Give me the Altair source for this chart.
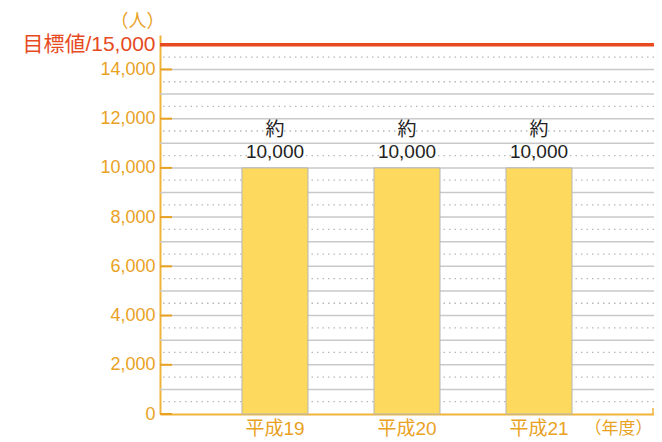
import altair as alt
import pandas as pd

# ---- data ----
years = ["平成19", "平成20", "平成21"]
people = [10000, 10000, 10000]
bar_prefix = "約"
target_value = 15000
target_label = "目標値/15,000"
y_unit = "（人）"
x_unit = "（年度）"
y_tick_values = [0, 2000, 4000, 6000, 8000, 10000, 12000, 14000]
solid_grid = [1000 * i for i in range(1, 15)]
dotted_grid = [500 + 1000 * i for i in range(0, 15)]

ORANGE = "#E9A21F"
AXIS_ORANGE = "#F0B43A"
RED = "#E64A1E"
BAR = "#FDDA5E"
FONT = "Liberation Sans, Noto Sans CJK JP"

W, H = 494, 379

bars_df = pd.DataFrame({
    "year": years,
    "people": people,
    "prefix": [bar_prefix] * len(people),
    "valtext": [format(v, ",") for v in people],
})

yscale = alt.Scale(domain=[0, 15400], nice=False, zero=True)
xscale = alt.Scale(domain=years, paddingInner=0.5, paddingOuter=0.621)

y_axis = alt.Axis(
    values=y_tick_values + [target_value],
    labelExpr="datum.value == %d ? '%s' : format(datum.value, ',')" % (target_value, target_label),
    labelColor={"condition": {"test": "datum.value == %d" % target_value, "value": RED}, "value": ORANGE},
    labelFontSize={"condition": {"test": "datum.value == %d" % target_value, "value": 21}, "value": 18},
    labelFont=FONT,
    labelPadding=5,
    ticks=False,
    grid=False,
    domainColor=AXIS_ORANGE,
    domainWidth=2,
    title=y_unit,
    titleColor=ORANGE,
    titleFontSize=18,
    titleFont=FONT,
    titleFontWeight="normal",
    titleAngle=0,
    titleX=-23,
    titleY=-14,
    titleAlign="center",
    titleBaseline="middle",
)

x_axis = alt.Axis(
    labelAngle=0,
    ticks=False,
    domainColor=AXIS_ORANGE,
    domainWidth=2,
    labelColor=ORANGE,
    labelFontSize=19,
    labelFont=FONT,
    labelPadding=5,
    title=x_unit,
    titleColor=ORANGE,
    titleFontSize=17,
    titleFont=FONT,
    titleFontWeight="normal",
    titleX=458,
    titleY=14,
    titleAlign="center",
    titleBaseline="middle",
)

base = alt.Chart(bars_df)

solid = alt.Chart(pd.DataFrame({"v": solid_grid})).mark_rule(
    color="#c9c9c9", strokeWidth=1.5
).encode(y=alt.Y("v:Q", scale=yscale, axis=y_axis))

dotted = alt.Chart(pd.DataFrame({"v": dotted_grid})).mark_rule(
    color="#b8b8b8", strokeWidth=1.3, strokeDash=[1.5, 4]
).encode(y=alt.Y("v:Q", scale=yscale, axis=y_axis))

bars = base.mark_bar(fill=BAR, stroke="#b5b5b5", strokeWidth=1).encode(
    x=alt.X("year:N", scale=xscale, sort=years, axis=x_axis),
    y=alt.Y("people:Q", scale=yscale, axis=y_axis),
)

text_prefix = base.mark_text(
    baseline="bottom", dy=-28, fontSize=19, color="#222222", font=FONT
).encode(
    x=alt.X("year:N", scale=xscale, sort=years, axis=x_axis),
    y=alt.Y("people:Q", scale=yscale, axis=y_axis),
    text="prefix:N",
)

text_value = base.mark_text(
    baseline="bottom", dy=-6, fontSize=19, color="#222222", font=FONT
).encode(
    x=alt.X("year:N", scale=xscale, sort=years, axis=x_axis),
    y=alt.Y("people:Q", scale=yscale, axis=y_axis),
    text="valtext:N",
)

ticks = alt.Chart(pd.DataFrame({"v": y_tick_values})).mark_rule(
    color=ORANGE, strokeWidth=2
).encode(
    y=alt.Y("v:Q", scale=yscale, axis=y_axis),
    x=alt.value(0),
    x2=alt.value(12),
)

target = alt.Chart(pd.DataFrame({"v": [target_value]})).mark_rule(
    color=RED, strokeWidth=3.5
).encode(y=alt.Y("v:Q", scale=yscale, axis=y_axis))

end_tick = alt.Chart(pd.DataFrame({"v": [0]})).mark_rule(
    color=AXIS_ORANGE, strokeWidth=1.5
).encode(
    x=alt.value(W - 1),
    y=alt.value(H - 6),
    y2=alt.value(H),
)

chart = alt.layer(solid, dotted, bars, text_prefix, text_value, ticks, target, end_tick).properties(
    width=W,
    height=H,
    background="white",
    autosize=alt.AutoSizeParams(type="none"),
    padding={"left": 152, "top": 27, "right": 0, "bottom": 28},
).configure_view(stroke=None)

chart.save("out.html", embed_options={"renderer": "svg", "actions": False})
